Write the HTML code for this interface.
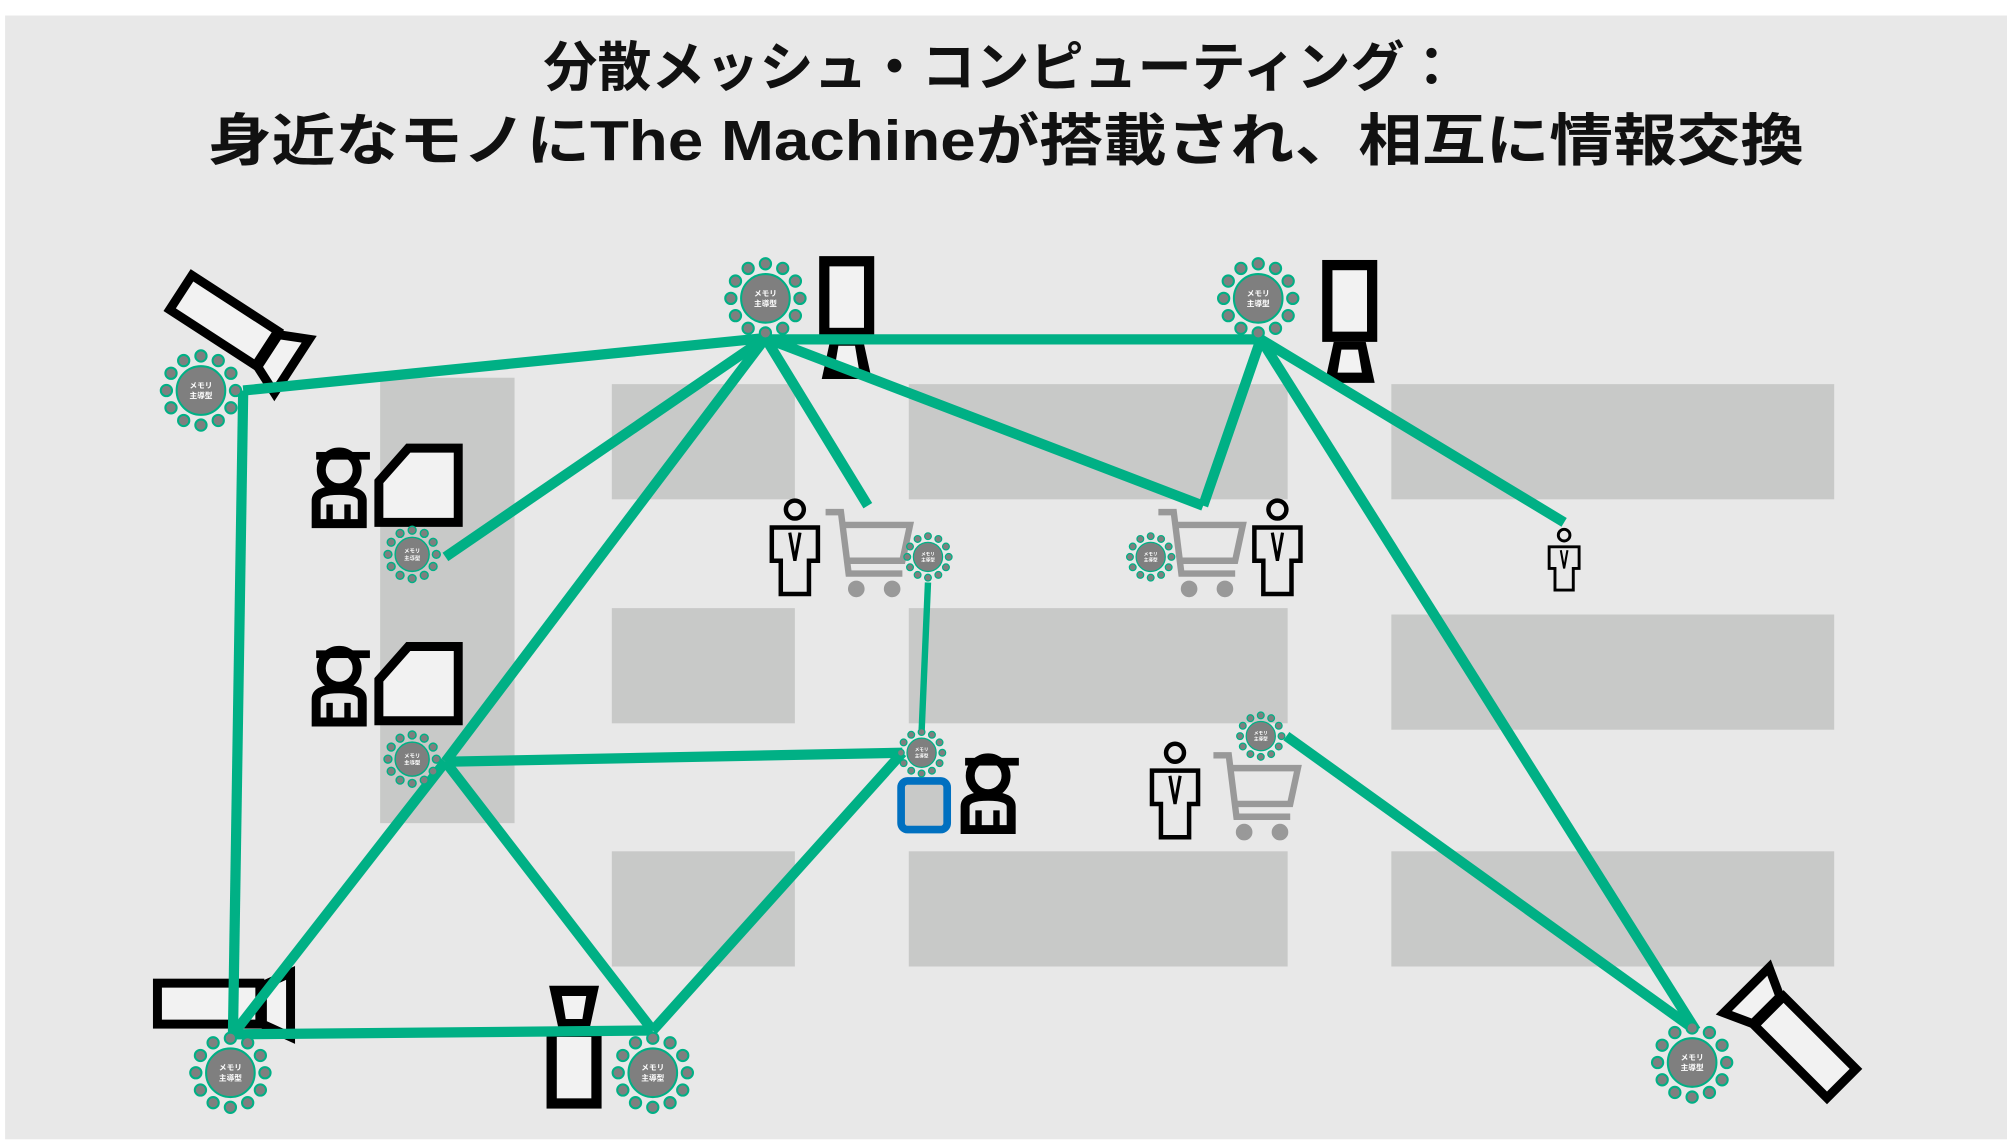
<!DOCTYPE html>
<html><head><meta charset="utf-8"><style>
html,body{margin:0;padding:0;background:#fff;}
svg{display:block;}
</style></head><body>
<svg width="2007" height="1142" viewBox="0 0 1568 892" xmlns="http://www.w3.org/2000/svg">
<defs>
<g id="node">
  <g fill="#7f7f7f" stroke="#00b085" stroke-width="1.6">
    <circle cx="27" cy="0" r="4.4"/><circle cx="23.4" cy="13.5" r="4.4"/><circle cx="13.5" cy="23.4" r="4.4"/>
    <circle cx="0" cy="27" r="4.4"/><circle cx="-13.5" cy="23.4" r="4.4"/><circle cx="-23.4" cy="13.5" r="4.4"/>
    <circle cx="-27" cy="0" r="4.4"/><circle cx="-23.4" cy="-13.5" r="4.4"/><circle cx="-13.5" cy="-23.4" r="4.4"/>
    <circle cx="0" cy="-27" r="4.4"/><circle cx="13.5" cy="-23.4" r="4.4"/><circle cx="23.4" cy="-13.5" r="4.4"/>
    <circle cx="0" cy="0" r="19"/>
  </g>
  <text x="0" y="-2" font-size="6" fill="#fff" text-anchor="middle" font-family="'Noto Sans CJK JP',sans-serif" font-weight="bold">メモリ</text>
  <text x="0" y="6" font-size="6" fill="#fff" text-anchor="middle" font-family="'Noto Sans CJK JP',sans-serif" font-weight="bold">主導型</text>
</g>
<g id="shopper" fill="none" stroke="#000" stroke-width="3.5">
  <circle cx="0" cy="0" r="7"/>
  <path d="M-18 14 H18 V40 H11 V66 H-11 V40 H-18 Z"/>
  <path d="M-4 18 L0 40 L4 18" stroke-width="2.5"/>
</g>
<g id="cart" fill="none" stroke="#999" stroke-width="5">
  <path d="M0 0 H12 L18 48 H60"/>
  <path d="M12 10 H66 L60 38 H16"/>
  <circle cx="24" cy="60" r="4" fill="#999"/><circle cx="52" cy="60" r="4" fill="#999"/>
</g>
<g id="wk">
  <g fill="none" stroke="#000" stroke-width="7">
    <circle cx="22" cy="22" r="14"/>
    <path d="M4 64 V46 Q4 38 22 38 Q40 38 40 46 V64 Z"/>
  </g>
  <rect x="4" y="8" width="42" height="6" fill="#000"/>
  <rect x="12" y="49" width="5" height="16" fill="#000"/><rect x="26" y="49" width="5" height="16" fill="#000"/>
</g>
<g id="worker">
  <use href="#wk"/>
  <g transform="translate(50,2)"><path d="M26 3 H65 V61 H3 V29 Z" fill="#f2f2f2" stroke="#000" stroke-width="7"/></g>
</g>
<g id="kiosk">
  <rect x="4" y="4" width="35" height="56" fill="#f2f2f2" stroke="#000" stroke-width="8"/>
  <path d="M9 64 H34 L41 96 H2 Z" fill="#000"/>
  <path d="M15 70 H28 L31 88 H12 Z" fill="#f2f2f2"/>
</g>
<g id="cam">
  <rect x="0" y="0" width="80" height="32" fill="#f2f2f2" stroke="#000" stroke-width="7"/>
  <path d="M82 2 L104 -8 V42 L82 32 Z" fill="#f2f2f2" stroke="#000" stroke-width="7"/>
</g>
</defs>
<rect x="0" y="0" width="1568" height="892" fill="#fff"/>
<rect x="4" y="12" width="1564" height="878" fill="#e8e8e8"/>
<g fill="#c8c9c8">
<rect x="297" y="295" width="105" height="348"/>
<rect x="478" y="300" width="143" height="90"/><rect x="478" y="475" width="143" height="90"/><rect x="478" y="665" width="143" height="90"/>
<rect x="710" y="300" width="296" height="90"/><rect x="710" y="475" width="296" height="90"/><rect x="710" y="665" width="296" height="90"/>
<rect x="1087" y="300" width="346" height="90"/><rect x="1087" y="480" width="346" height="90"/><rect x="1087" y="665" width="346" height="90"/>
</g>
<g font-family="'Liberation Sans','Noto Sans CJK JP',sans-serif" font-weight="bold" fill="#111" text-anchor="middle">
<text x="782" y="67" font-size="42" textLength="715" lengthAdjust="spacingAndGlyphs">分散メッシュ・コンピューティング：</text>
<text x="786" y="125" font-size="44" textLength="1247" lengthAdjust="spacingAndGlyphs">身近なモノにThe Machineが搭載され、相互に情報交換</text>
</g>
<use href="#cam" transform="translate(150,215) rotate(33)"/>
<use href="#cam" transform="translate(123,768)"/>
<use href="#cam" transform="translate(1450,835) rotate(225) scale(1,-1)"/>
<use href="#kiosk" transform="translate(640,200)"/>
<use href="#kiosk" transform="translate(1033,203)"/>
<use href="#kiosk" transform="translate(470,866) rotate(180)"/>
<use href="#worker" transform="translate(243,345)"/>
<use href="#worker" transform="translate(243,500)"/>
<use href="#wk" transform="translate(750,584)"/>
<rect x="704" y="610" width="36" height="38" rx="5" fill="#c8c9c8" stroke="#0070c0" stroke-width="6"/>
<use href="#shopper" transform="translate(621,398)"/>
<use href="#cart" transform="translate(645,400)"/>
<use href="#cart" transform="translate(905,400)"/>
<use href="#shopper" transform="translate(998,398)"/>
<use href="#shopper" transform="translate(1222,418) scale(0.65)"/>
<use href="#shopper" transform="translate(918,588)"/>
<use href="#cart" transform="translate(948,590)"/>
<g stroke="#00b085" stroke-width="8" stroke-linecap="butt" fill="none">
<line x1="190" y1="305" x2="598" y2="264"/>
<line x1="190" y1="305" x2="182" y2="808"/>
<line x1="598" y1="265" x2="985" y2="265"/>
<line x1="598" y1="264" x2="348" y2="435"/>
<line x1="598" y1="264" x2="348" y2="595"/>
<line x1="598" y1="264" x2="678" y2="395"/>
<line x1="598" y1="264" x2="940" y2="395"/>
<line x1="940" y1="395" x2="985" y2="265"/>
<line x1="985" y1="265" x2="1222" y2="408"/>
<line x1="985" y1="265" x2="1325" y2="805"/>
<line x1="348" y1="595" x2="705" y2="588"/>
<line x1="348" y1="595" x2="510" y2="805"/>
<line x1="348" y1="595" x2="182" y2="808"/>
<line x1="182" y1="808" x2="510" y2="805"/>
<line x1="705" y1="588" x2="510" y2="805"/>
<line x1="1005" y1="575" x2="1325" y2="805"/>
<line x1="725" y1="455" x2="720" y2="572" stroke-width="5"/>
</g>
<use href="#node" transform="translate(598,233)"/>
<use href="#node" transform="translate(983,233)"/>
<use href="#node" transform="translate(157,305)"/>
<use href="#node" transform="translate(180,838)"/>
<use href="#node" transform="translate(510,838)"/>
<use href="#node" transform="translate(1322,830)"/>
<use href="#node" transform="translate(322,433) scale(0.7)"/>
<use href="#node" transform="translate(322,593) scale(0.7)"/>
<use href="#node" transform="translate(725,435) scale(0.6)"/>
<use href="#node" transform="translate(899,435) scale(0.6)"/>
<use href="#node" transform="translate(720,588) scale(0.6)"/>
<use href="#node" transform="translate(985,575) scale(0.6)"/>
</svg>
</body></html>
